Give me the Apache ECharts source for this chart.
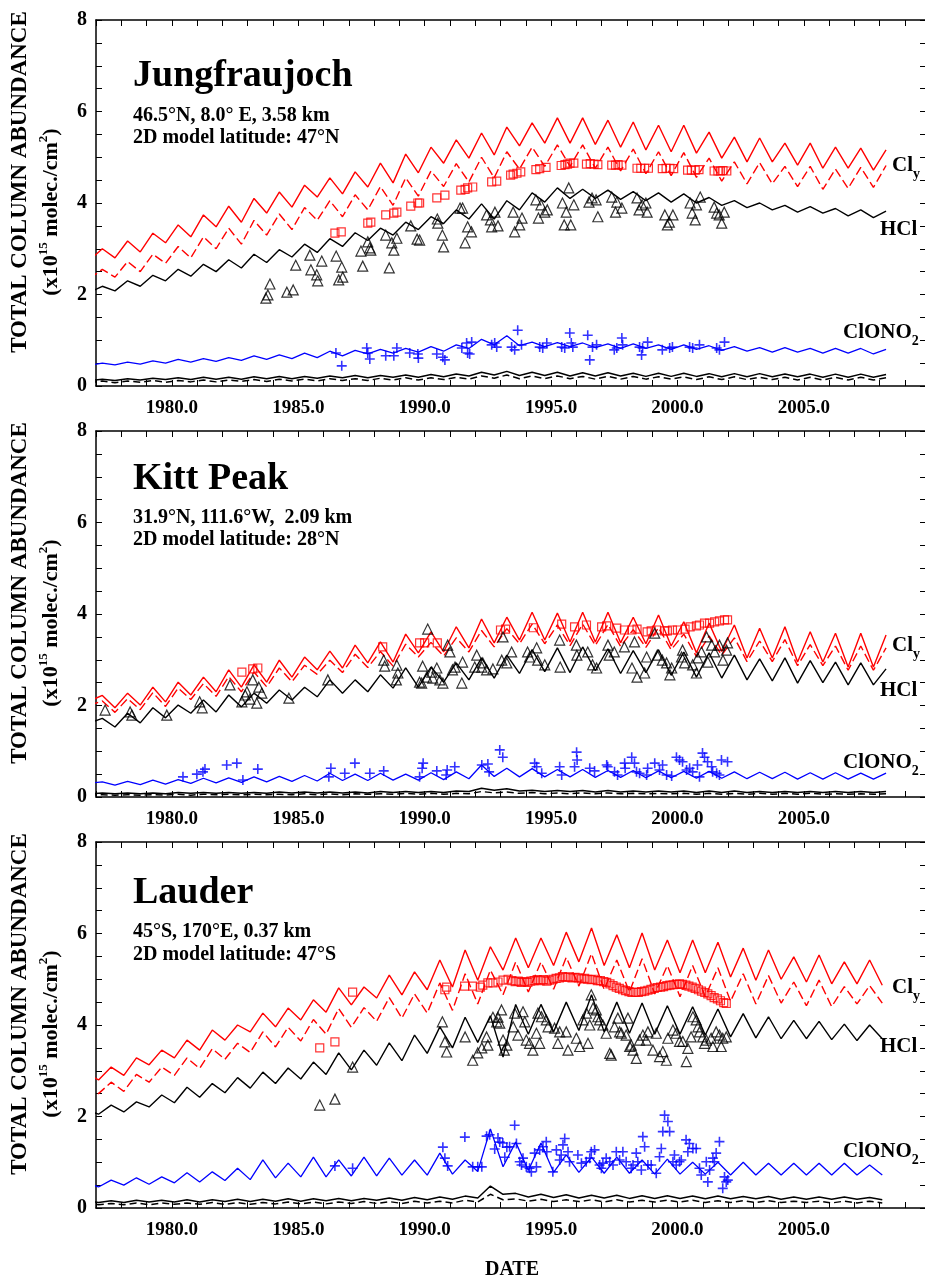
<!DOCTYPE html>
<html>
<head>
<meta charset="utf-8">
<title>Total column abundance</title>
<script src="https://cdn.jsdelivr.net/npm/echarts@6/dist/echarts.min.js"></script>
<style>
  html, body { margin: 0; background: #fff; }
  #chart { width: 925px; height: 1279px; }
</style>
</head>
<body>
<div id="chart"></div>
<script>
// model lines: values every half year starting at T0 (alternating trough / peak)
const STEP = 0.5;
const JF_T0 = 1976.75, KP_T0 = 1976.75, LA_T0 = 1976.6;

// ---- Jungfraujoch ----
const JF_CLY = [
  2.75,3.00, 2.80,3.17, 2.93,3.34, 3.13,3.52, 3.26,3.74, 3.48,3.93, 3.58,4.10, 3.78,4.24,
  3.91,4.39, 4.13,4.55, 4.20,4.68, 4.35,4.87, 4.44,5.07, 4.66,5.22, 4.87,5.38, 4.98,5.53,
  5.05,5.66, 5.25,5.75, 5.31,5.86, 5.31,5.86, 5.28,5.81, 5.22,5.77, 5.16,5.70, 5.12,5.70,
  5.09,5.55, 4.98,5.44, 4.90,5.42, 4.90,5.31, 4.83,5.31, 4.76,5.22, 4.76,5.20, 4.72,5.16
];
const JF_CLY_DASH = [
  2.35,2.55, 2.38,2.72, 2.50,2.88, 2.68,3.05, 2.80,3.26, 3.00,3.45, 3.10,3.62, 3.30,3.76,
  3.42,3.90, 3.62,4.05, 3.70,4.18, 3.85,4.36, 3.95,4.55, 4.15,4.70, 4.36,4.86, 4.46,5.00,
  4.55,5.12, 4.74,5.22, 4.80,5.27, 4.80,5.27, 4.76,5.22, 4.70,5.18, 4.64,5.12, 4.60,5.10,
  4.56,4.98, 4.48,4.90, 4.42,4.88, 4.42,4.80, 4.36,4.80, 4.30,4.74, 4.32,4.78, 4.34,4.82
];
const JF_HCL = [
  2.05,2.18, 2.08,2.30, 2.18,2.42, 2.30,2.55, 2.40,2.66, 2.50,2.76, 2.58,2.88, 2.70,2.98,
  2.82,3.10, 2.92,3.22, 3.05,3.35, 3.18,3.45, 3.30,3.58, 3.42,3.70, 3.55,3.85, 3.65,3.98,
  3.65,4.05, 3.85,4.22, 4.02,4.33, 4.10,4.30, 4.10,4.28, 4.08,4.25, 4.05,4.22, 4.02,4.20,
  4.00,4.12, 3.95,4.05, 3.90,4.00, 3.85,3.95, 3.80,3.92, 3.78,3.88, 3.72,3.85, 3.68,3.82
];
const JF_CLONO2 = [
  0.45,0.50, 0.46,0.52, 0.48,0.55, 0.50,0.58, 0.52,0.60, 0.54,0.62, 0.56,0.66, 0.58,0.68,
  0.60,0.72, 0.62,0.76, 0.66,0.78, 0.70,0.80, 0.72,0.82, 0.74,0.86, 0.76,0.90, 0.82,1.02,
  0.90,1.10, 0.88,0.96, 0.86,0.95, 0.86,0.94, 0.84,0.92, 0.82,0.92, 0.82,0.90, 0.80,0.90,
  0.80,0.88, 0.78,0.86, 0.76,0.84, 0.74,0.84, 0.74,0.82, 0.72,0.82, 0.72,0.82, 0.70,0.80
];
const JF_LOW1 = [
  0.12,0.15, 0.12,0.16, 0.13,0.17, 0.14,0.18, 0.14,0.19, 0.15,0.19, 0.15,0.20, 0.16,0.21,
  0.16,0.21, 0.17,0.22, 0.18,0.23, 0.18,0.23, 0.19,0.24, 0.19,0.25, 0.20,0.26, 0.22,0.30,
  0.24,0.32, 0.23,0.30, 0.23,0.30, 0.22,0.29, 0.22,0.29, 0.22,0.28, 0.21,0.28, 0.21,0.28,
  0.21,0.27, 0.20,0.27, 0.20,0.27, 0.20,0.26, 0.20,0.26, 0.19,0.26, 0.19,0.26, 0.19,0.25
];
const JF_LOW2 = [
  0.07,0.11, 0.07,0.11, 0.08,0.12, 0.08,0.12, 0.09,0.13, 0.09,0.13, 0.10,0.14, 0.10,0.15,
  0.11,0.15, 0.11,0.16, 0.12,0.16, 0.12,0.17, 0.13,0.18, 0.13,0.18, 0.14,0.19, 0.15,0.22,
  0.17,0.24, 0.16,0.22, 0.16,0.22, 0.16,0.21, 0.15,0.21, 0.15,0.21, 0.15,0.20, 0.15,0.20,
  0.14,0.20, 0.14,0.20, 0.14,0.19, 0.14,0.19, 0.13,0.19, 0.13,0.19, 0.13,0.19, 0.13,0.18
];
const JF_CLY_OBS = [
  [1986.45,3.34],[1986.7,3.37],[1987.75,3.56],[1987.87,3.58],[1988.46,3.74],[1988.78,3.78],[1988.9,3.80],
  [1989.45,3.93],[1989.73,4.00],[1989.8,4.00],[1990.48,4.11],[1990.8,4.17],[1991.43,4.28],[1991.6,4.30],
  [1991.7,4.33],[1991.9,4.35],[1992.65,4.46],[1992.85,4.48],[1993.4,4.61],[1993.5,4.63],[1993.65,4.65],
  [1993.8,4.68],[1994.4,4.73],[1994.55,4.75],[1994.8,4.78],[1995.4,4.82],[1995.55,4.84],[1995.65,4.85],
  [1995.75,4.87],[1995.9,4.87],[1996.4,4.85],[1996.55,4.86],[1996.7,4.85],[1996.85,4.84],[1997.4,4.83],
  [1997.55,4.83],[1997.65,4.84],[1997.8,4.83],[1998.4,4.76],[1998.55,4.76],[1998.7,4.76],[1998.85,4.76],
  [1999.4,4.75],[1999.55,4.76],[1999.7,4.76],[1999.85,4.75],[2000.4,4.72],[2000.55,4.72],[2000.7,4.72],
  [2000.85,4.73],[2001.45,4.70],[2001.6,4.70],[2001.7,4.70],[2001.8,4.71],[2001.95,4.70]
];
const JF_HCL_OBS = [
  [1983.72,1.92],[1983.8,1.99],[1983.88,2.23],[1984.55,2.05],[1984.8,2.10],[1984.9,2.64],[1985.46,2.86],
  [1985.5,2.54],[1985.73,2.43],[1985.77,2.30],[1985.93,2.73],[1986.5,2.84],[1986.6,2.32],[1986.72,2.60],
  [1986.76,2.38],[1987.48,2.95],[1987.55,2.62],[1987.75,3.15],[1987.83,3.02],[1987.87,2.97],[1988.46,3.30],
  [1988.6,2.58],[1988.7,3.13],[1988.78,2.97],[1988.9,3.23],[1989.45,3.50],[1989.7,3.21],[1989.8,3.19],
  [1990.5,3.65],[1990.52,3.56],[1990.7,3.30],[1990.75,3.04],[1991.4,3.89],[1991.5,3.89],[1991.6,3.13],
  [1991.7,3.48],[1991.85,3.37],[1992.45,3.74],[1992.6,3.63],[1992.65,3.48],[1992.78,3.80],[1992.9,3.50],
  [1993.5,3.80],[1993.56,3.37],[1993.76,3.52],[1993.85,3.67],[1994.4,4.07],[1994.5,3.67],[1994.6,3.96],
  [1994.75,3.80],[1994.85,3.85],[1995.45,4.00],[1995.52,3.52],[1995.6,3.80],[1995.7,4.33],[1995.78,3.52],
  [1995.9,3.96],[1996.5,4.02],[1996.62,4.11],[1996.78,4.07],[1996.85,3.70],[1997.4,4.13],[1997.55,3.80],
  [1997.6,4.02],[1997.8,3.89],[1998.4,4.11],[1998.48,3.85],[1998.6,3.96],[1998.75,4.00],[1998.8,3.80],
  [1999.5,3.74],[1999.6,3.52],[1999.68,3.58],[1999.82,3.74],[2000.5,4.00],[2000.58,3.78],[2000.7,3.63],
  [2000.75,3.96],[2000.9,4.13],[2001.45,3.91],[2001.55,3.78],[2001.65,3.74],[2001.75,3.56],[2001.85,3.80]
];
const JF_CLONO2_OBS = [
  [1986.49,0.72],[1986.72,0.44],[1987.71,0.83],[1987.75,0.72],[1987.83,0.59],[1988.46,0.66],[1988.78,0.66],
  [1988.9,0.83],[1989.41,0.72],[1989.73,0.70],[1989.75,0.61],[1990.48,0.70],[1990.72,0.63],[1990.8,0.57],
  [1991.47,0.83],[1991.66,0.94],[1991.7,0.72],[1991.78,0.70],[1991.86,0.96],[1992.65,0.90],[1992.77,0.94],
  [1992.85,0.85],[1993.44,0.85],[1993.56,0.79],[1993.68,1.22],[1993.83,0.90],[1994.55,0.85],[1994.67,0.83],
  [1994.83,0.94],[1995.42,0.85],[1995.54,0.83],[1995.74,1.16],[1995.8,0.94],[1995.86,0.85],[1996.45,1.11],
  [1996.53,0.57],[1996.64,0.85],[1996.8,0.90],[1997.5,0.79],[1997.6,0.83],[1997.8,1.05],[1997.83,0.90],
  [1998.5,0.85],[1998.58,0.68],[1998.62,0.83],[1998.82,0.96],[1999.4,0.79],[1999.69,0.83],[1999.8,0.85],
  [2000.48,0.85],[2000.6,0.83],[2000.87,0.90],[2001.55,0.83],[2001.66,0.79],[2001.86,0.96]
];

// ---- Kitt Peak ----
const KP_CLY = [
  2.10,2.22, 1.95,2.27, 2.01,2.40, 2.08,2.51, 2.23,2.62, 2.30,2.78, 2.40,2.89, 2.51,2.99,
  2.62,3.06, 2.78,3.19, 2.82,3.32, 2.93,3.39, 2.95,3.56, 3.15,3.61, 3.17,3.72, 3.26,3.89,
  3.37,3.93, 3.43,4.04, 3.43,4.02, 3.39,4.04, 3.39,4.04, 3.37,3.93, 3.35,3.98, 3.30,3.83,
  3.15,3.80, 3.18,3.76, 3.04,3.69, 3.04,3.72, 2.95,3.61, 2.95,3.58, 2.84,3.58, 2.84,3.54
];
const KP_CLY_DASH = [
  2.00,2.10, 1.85,2.15, 1.91,2.28, 1.98,2.38, 2.13,2.48, 2.20,2.63, 2.30,2.73, 2.41,2.82,
  2.52,2.88, 2.68,2.99, 2.72,3.12, 2.83,3.18, 2.86,3.34, 3.06,3.38, 3.08,3.48, 3.17,3.64,
  3.28,3.68, 3.35,3.78, 3.35,3.76, 3.31,3.78, 3.31,3.77, 3.29,3.66, 3.27,3.70, 3.22,3.56,
  3.07,3.52, 3.10,3.48, 2.96,3.41, 2.96,3.44, 2.87,3.33, 2.87,3.30, 2.77,3.30, 2.77,3.26
];
const KP_HCL = [
  1.62,1.72, 1.53,1.83, 1.62,1.95, 1.73,2.01, 1.83,2.12, 1.86,2.23, 1.97,2.27, 2.05,2.34,
  2.12,2.40, 2.19,2.56, 2.27,2.56, 2.30,2.67, 2.38,2.82, 2.40,2.84, 2.51,2.93, 2.56,3.04,
  2.60,3.10, 2.70,3.22, 2.74,3.26, 2.72,3.28, 2.76,3.24, 2.70,3.20, 2.72,3.22, 2.66,3.17,
  2.62,3.15, 2.60,3.10, 2.56,3.02, 2.54,3.04, 2.49,2.98, 2.50,2.95, 2.45,2.93, 2.45,2.80
];
const KP_CLONO2 = [
  0.30,0.33, 0.26,0.34, 0.27,0.37, 0.28,0.38, 0.30,0.41, 0.31,0.42, 0.32,0.44, 0.33,0.45,
  0.34,0.47, 0.35,0.52, 0.36,0.50, 0.36,0.52, 0.37,0.50, 0.37,0.53, 0.38,0.55, 0.40,0.70,
  0.45,0.63, 0.44,0.62, 0.44,0.60, 0.44,0.60, 0.43,0.58, 0.43,0.58, 0.42,0.57, 0.42,0.56,
  0.41,0.56, 0.41,0.55, 0.40,0.54, 0.40,0.54, 0.39,0.53, 0.39,0.53, 0.39,0.52, 0.39,0.52
];
const KP_LOW1 = [
  0.07,0.09, 0.07,0.09, 0.07,0.09, 0.07,0.10, 0.08,0.10, 0.08,0.10, 0.08,0.10, 0.08,0.11,
  0.09,0.11, 0.09,0.11, 0.09,0.11, 0.09,0.12, 0.10,0.12, 0.10,0.12, 0.10,0.13, 0.12,0.19,
  0.15,0.18, 0.13,0.15, 0.12,0.14, 0.12,0.14, 0.11,0.14, 0.11,0.13, 0.11,0.13, 0.11,0.13,
  0.10,0.13, 0.10,0.13, 0.10,0.12, 0.10,0.12, 0.10,0.12, 0.10,0.12, 0.10,0.12, 0.10,0.12
];
const KP_LOW2 = [
  0.04,0.05, 0.04,0.05, 0.04,0.05, 0.04,0.06, 0.04,0.06, 0.05,0.06, 0.05,0.06, 0.05,0.06,
  0.05,0.07, 0.05,0.07, 0.05,0.07, 0.06,0.07, 0.06,0.08, 0.06,0.08, 0.06,0.08, 0.07,0.12,
  0.09,0.11, 0.08,0.10, 0.07,0.09, 0.07,0.09, 0.07,0.09, 0.07,0.08, 0.07,0.08, 0.07,0.08,
  0.06,0.08, 0.06,0.08, 0.06,0.08, 0.06,0.08, 0.06,0.08, 0.06,0.07, 0.06,0.07, 0.06,0.07
];
const KP_CLY_OBS = [
  [1982.77,2.73],[1983.2,2.80],[1983.4,2.82],[1988.34,3.28],[1989.8,3.37],[1990.0,3.37],[1990.5,3.37],
  [1993.0,3.65],[1993.2,3.67],[1994.3,3.70],[1995.42,3.78],[1995.93,3.72],[1996.4,3.76],[1997.0,3.72],
  [1997.2,3.74],[1997.6,3.69],[1997.9,3.65],[1998.2,3.65],[1998.4,3.67],[1998.8,3.61],[1998.96,3.63],
  [1999.17,3.65],[1999.5,3.63],[1999.6,3.63],[1999.8,3.65],[2000.0,3.65],[2000.3,3.67],[2000.5,3.72],
  [2000.75,3.74],[2000.87,3.76],[2001.07,3.80],[2001.27,3.80],[2001.47,3.83],[2001.66,3.85],
  [2001.86,3.87],[2001.98,3.87]
];
const KP_HCL_OBS = [
  [1977.36,1.90],[1978.35,1.86],[1978.42,1.79],[1979.8,1.79],[1981.1,2.08],[1981.2,1.95],[1982.3,2.45],
  [1982.77,2.08],[1982.9,2.23],[1982.97,2.30],[1983.09,2.14],[1983.2,2.56],[1983.36,2.05],[1983.44,2.40],
  [1983.56,2.27],[1984.63,2.16],[1986.17,2.56],[1988.38,2.99],[1988.42,2.86],[1988.9,2.88],[1988.94,2.71],
  [1988.88,2.56],[1989.8,2.51],[1989.88,2.49],[1989.92,2.86],[1990.08,2.62],[1990.12,3.67],[1990.28,2.73],
  [1990.32,2.60],[1990.48,2.82],[1990.6,2.56],[1990.72,2.49],[1990.91,3.32],[1991.0,3.17],[1991.1,2.78],
  [1991.2,2.84],[1991.47,2.49],[1991.5,2.95],[1991.98,2.84],[1992.06,3.10],[1992.26,2.84],[1992.3,2.93],
  [1992.45,2.78],[1992.7,2.80],[1993.05,2.99],[1993.1,3.50],[1993.25,2.93],[1993.44,3.17],[1994.07,3.17],
  [1994.15,3.06],[1994.43,3.26],[1994.47,2.99],[1994.75,2.89],[1995.34,3.43],[1995.36,2.84],[1996.0,3.32],
  [1996.02,3.10],[1996.45,3.17],[1996.64,2.89],[1996.8,2.82],[1997.25,3.32],[1997.3,3.10],[1997.5,3.17],
  [1997.9,3.28],[1998.2,2.82],[1998.3,3.39],[1998.4,2.62],[1998.7,2.71],[1998.78,3.06],[1999.1,3.58],
  [1999.2,3.10],[1999.4,2.99],[1999.57,2.93],[1999.7,2.67],[1999.77,2.82],[2000.16,3.06],[2000.2,3.21],
  [2000.28,2.93],[2000.6,2.89],[2000.75,2.71],[2000.8,3.04],[2000.95,3.17],[2001.15,3.50],[2001.2,2.95],
  [2001.35,3.32],[2001.47,3.17],[2001.66,3.32],[2001.8,2.99],[2001.94,3.21],[2001.98,3.37]
];
const KP_CLONO2_OBS = [
  [1980.44,0.44],[1980.99,0.50],[1981.23,0.55],[1981.31,0.61],[1982.17,0.70],[1982.57,0.74],[1982.81,0.37],
  [1983.4,0.61],[1986.29,0.63],[1986.21,0.44],[1986.84,0.52],[1987.24,0.74],[1987.83,0.52],[1988.38,0.57],
  [1989.8,0.44],[1989.9,0.63],[1989.94,0.74],[1990.48,0.57],[1990.85,0.48],[1990.89,0.59],[1991.19,0.66],
  [1992.26,0.70],[1992.5,0.72],[1992.55,0.55],[1992.97,1.03],[1993.09,0.87],[1994.35,0.74],[1994.43,0.66],
  [1994.63,0.52],[1995.34,0.66],[1995.42,0.48],[1996.01,0.98],[1996.03,0.81],[1995.93,0.66],[1996.53,0.63],
  [1996.72,0.57],[1997.2,0.70],[1997.24,0.66],[1997.51,0.55],[1997.63,0.48],[1997.91,0.74],[1997.93,0.63],
  [1998.19,0.87],[1998.3,0.74],[1998.38,0.55],[1998.5,0.52],[1998.78,0.48],[1998.82,0.63],[1999.1,0.74],
  [1999.29,0.59],[1999.41,0.70],[1999.57,0.48],[1999.77,0.46],[1999.96,0.87],[2000.08,0.81],[2000.2,0.77],
  [2000.36,0.59],[2000.48,0.63],[2000.6,0.55],[2000.79,0.70],[2000.87,0.44],[2000.99,0.96],[2001.07,0.87],
  [2001.19,0.77],[2001.35,0.66],[2001.39,0.55],[2001.55,0.52],[2001.66,0.48],[2001.74,0.81],[2001.98,0.77]
];

// ---- Lauder (values start with a peak) ----
const LA_CLY = [
  2.95,2.80, 3.08,2.90, 3.28,3.13, 3.45,3.28, 3.67,3.45, 3.89,3.67, 4.00,3.85, 4.26,3.96,
  4.37,4.11, 4.55,4.28, 4.81,4.44, 4.83,4.59, 5.09,4.66, 5.16,4.77, 5.42,4.83, 5.64,4.98,
  5.71,5.20, 5.90,5.25, 5.90,5.30, 6.03,5.38, 6.12,5.30, 5.97,5.25, 6.01,5.20, 5.86,5.14,
  5.86,5.14, 5.81,5.05, 5.68,4.98, 5.64,5.00, 5.49,4.94, 5.53,4.90, 5.38,4.90, 5.42,4.87
];
const LA_CLY_DASH = [
  2.62,2.50, 2.75,2.55, 2.92,2.75, 3.08,2.90, 3.28,3.05, 3.48,3.25, 3.60,3.40, 3.85,3.52,
  3.95,3.65, 4.12,3.80, 4.36,3.95, 4.38,4.08, 4.60,4.15, 4.68,4.26, 4.92,4.32, 5.12,4.46,
  5.20,4.66, 5.38,4.72, 5.38,4.78, 5.48,4.85, 5.56,4.78, 5.42,4.72, 5.45,4.68, 5.30,4.62,
  5.30,4.62, 5.25,4.52, 5.12,4.46, 5.08,4.48, 4.94,4.42, 4.98,4.40, 4.84,4.46, 4.86,4.48
];
const LA_HCL = [
  2.15,2.05, 2.25,2.10, 2.32,2.21, 2.47,2.30, 2.64,2.42, 2.72,2.52, 2.85,2.62, 2.97,2.72,
  3.06,2.82, 3.19,2.92, 3.39,3.02, 3.45,3.12, 3.61,3.22, 3.78,3.38, 3.96,3.50, 4.17,3.62,
  4.20,3.30, 4.45,3.80, 4.45,3.85, 4.50,3.88, 4.66,3.85, 4.50,3.82, 4.48,3.80, 4.42,3.80,
  4.40,3.78, 4.35,3.74, 4.25,3.72, 4.18,3.70, 4.10,3.70, 4.08,3.68, 4.02,3.66, 4.00,3.70
];
const LA_CLONO2 = [
  0.55,0.46, 0.61,0.50, 0.66,0.52, 0.68,0.55, 0.77,0.57, 0.79,0.60, 0.87,0.62, 1.05,0.66,
  0.98,0.68, 1.11,0.68, 1.05,0.70, 1.11,0.70, 1.09,0.72, 1.05,0.72, 1.20,0.74, 1.05,0.80,
  1.73,0.90, 1.44,0.82, 1.42,0.78, 1.16,0.78, 1.11,0.76, 1.11,0.76, 1.05,0.74, 1.07,0.74,
  1.00,0.74, 1.00,0.72, 1.00,0.72, 0.98,0.72, 0.98,0.72, 0.98,0.72, 0.98,0.72, 0.94,0.72
];
const LA_LOW1 = [
  0.16,0.12, 0.16,0.12, 0.17,0.13, 0.17,0.13, 0.18,0.13, 0.18,0.14, 0.19,0.14, 0.19,0.15,
  0.20,0.15, 0.20,0.16, 0.21,0.16, 0.21,0.17, 0.22,0.17, 0.23,0.18, 0.24,0.19, 0.26,0.22,
  0.48,0.30, 0.32,0.24, 0.30,0.23, 0.29,0.22, 0.28,0.22, 0.28,0.21, 0.27,0.21, 0.27,0.21,
  0.26,0.20, 0.26,0.20, 0.25,0.20, 0.25,0.19, 0.24,0.19, 0.24,0.19, 0.24,0.19, 0.23,0.18
];
const LA_LOW2 = [
  0.10,0.07, 0.10,0.07, 0.11,0.07, 0.11,0.08, 0.11,0.08, 0.12,0.08, 0.12,0.08, 0.12,0.09,
  0.13,0.09, 0.13,0.09, 0.13,0.10, 0.14,0.10, 0.14,0.10, 0.15,0.11, 0.15,0.11, 0.17,0.13,
  0.30,0.18, 0.20,0.15, 0.19,0.14, 0.18,0.14, 0.18,0.13, 0.18,0.13, 0.17,0.13, 0.17,0.13,
  0.17,0.12, 0.16,0.12, 0.16,0.12, 0.16,0.12, 0.15,0.12, 0.15,0.11, 0.15,0.11, 0.15,0.11
];
const LA_CLY_OBS = [
  [1985.85,3.50],[1986.45,3.63],[1987.15,4.72],[1990.8,4.77],[1990.87,4.83],[1991.58,4.85],[1991.9,4.85],
  [1992.2,4.83],[1992.3,4.87],[1992.5,4.92],[1992.7,4.92],[1992.9,4.94],[1993.1,4.98],[1993.3,5.00],
  [1993.45,4.97],[1993.58,4.95],[1993.7,4.96],[1993.82,4.93],[1993.95,4.95],[1994.08,4.93],[1994.2,4.96],
  [1994.33,4.97],[1994.45,4.99],[1994.58,4.97],[1994.7,4.99],[1994.83,4.96],[1994.95,4.98],[1995.08,5.00],
  [1995.2,5.02],[1995.33,5.03],[1995.45,5.06],[1995.58,5.04],[1995.7,5.05],[1995.83,5.03],[1995.95,5.04],
  [1996.08,5.03],[1996.2,5.01],[1996.33,5.02],[1996.45,5.00],[1996.58,4.99],[1996.7,5.00],[1996.83,4.97],
  [1996.95,4.97],[1997.08,4.95],[1997.2,4.93],[1997.33,4.90],[1997.45,4.86],[1997.58,4.83],[1997.7,4.80],
  [1997.83,4.77],[1997.95,4.75],[1998.08,4.73],[1998.2,4.71],[1998.33,4.72],[1998.45,4.71],[1998.58,4.73],
  [1998.7,4.74],[1998.83,4.76],[1998.95,4.78],[1999.08,4.80],[1999.2,4.82],[1999.33,4.83],[1999.45,4.84],
  [1999.58,4.86],[1999.7,4.87],[1999.83,4.88],[1999.95,4.89],[2000.08,4.90],[2000.2,4.89],[2000.33,4.87],
  [2000.45,4.85],[2000.58,4.83],[2000.7,4.80],[2000.83,4.77],[2000.95,4.74],[2001.08,4.71],[2001.2,4.68],
  [2001.33,4.64],[2001.45,4.60],[2001.58,4.57],[2001.7,4.53],[2001.83,4.49],[2001.93,4.47]
];
const LA_HCL_OBS = [
  [1985.85,2.25],[1986.45,2.38],[1987.15,3.08],[1990.7,4.07],[1990.8,3.63],[1990.87,3.41],[1991.6,3.74],
  [1991.9,3.23],[1992.1,3.39],[1992.26,3.50],[1992.45,3.74],[1992.5,3.56],[1992.7,4.17],[1992.85,4.07],
  [1992.9,4.17],[1992.97,4.04],[1993.1,3.67],[1993.15,3.45],[1993.25,3.56],[1993.04,4.33],[1993.5,3.96],
  [1993.56,4.26],[1993.69,3.78],[1993.89,4.29],[1993.96,4.07],[1994.02,3.67],[1994.15,3.60],[1994.28,3.45],
  [1994.42,3.82],[1994.48,4.26],[1994.55,3.60],[1994.62,4.18],[1994.81,4.11],[1994.88,3.96],[1995.14,3.93],
  [1995.27,3.60],[1995.34,3.85],[1995.6,3.85],[1995.67,3.45],[1996.0,3.71],[1996.13,3.53],[1996.26,4.11],
  [1996.4,4.26],[1996.46,3.60],[1996.53,4.00],[1996.59,4.66],[1996.66,4.37],[1996.79,4.33],[1996.85,4.18],
  [1996.92,4.11],[1997.05,4.00],[1997.18,3.82],[1997.32,3.38],[1997.38,3.34],[1997.51,3.96],[1997.64,4.15],
  [1997.71,3.85],[1997.78,3.82],[1997.97,3.78],[1998.04,4.15],[1998.11,3.53],[1998.17,3.56],[1998.24,3.45],
  [1998.37,3.27],[1998.5,3.67],[1998.63,3.78],[1998.77,3.67],[1998.83,3.85],[1999.03,3.45],[1999.16,3.82],
  [1999.29,3.31],[1999.42,3.42],[1999.56,3.23],[1999.62,3.71],[1999.82,3.89],[1999.95,3.82],[2000.08,3.64],
  [2000.21,3.64],[2000.35,3.20],[2000.41,3.49],[2000.54,3.74],[2000.61,4.18],[2000.74,4.11],[2000.81,3.96],
  [2000.87,3.85],[2001.0,3.74],[2001.07,3.60],[2001.14,3.67],[2001.33,3.71],[2001.4,3.53],[2001.53,3.85],
  [2001.66,3.78],[2001.73,3.53],[2001.79,3.71],[2001.93,3.74]
];
const LA_CLONO2_OBS = [
  [1986.45,0.92],[1987.15,0.87],[1990.72,1.33],[1990.8,1.09],[1990.91,0.92],[1991.59,1.55],[1991.9,0.90],
  [1992.1,0.90],[1992.26,0.90],[1992.45,1.57],[1992.57,1.60],[1992.77,1.29],[1992.9,1.53],[1992.97,1.44],
  [1993.09,1.42],[1993.17,1.11],[1993.25,1.33],[1993.36,1.34],[1993.56,1.81],[1993.63,1.41],[1993.76,1.01],
  [1993.83,0.94],[1993.89,1.09],[1994.02,0.90],[1994.15,0.87],[1994.22,0.79],[1994.35,1.20],[1994.42,0.90],
  [1994.55,1.27],[1994.68,1.34],[1994.81,1.45],[1994.83,1.23],[1995.07,0.79],[1995.21,1.27],[1995.34,1.05],
  [1995.4,1.16],[1995.47,1.38],[1995.54,1.52],[1995.67,1.23],[1995.73,1.01],[1996.06,1.16],[1996.2,0.98],
  [1996.39,1.01],[1996.53,1.09],[1996.59,1.23],[1996.72,1.27],[1996.92,0.94],[1996.99,0.87],[1997.05,0.98],
  [1997.18,1.09],[1997.32,1.01],[1997.45,0.94],[1997.58,1.23],[1997.71,1.05],[1997.84,1.23],[1997.97,1.01],
  [1998.17,0.87],[1998.24,0.94],[1998.37,1.20],[1998.43,1.01],[1998.57,0.83],[1998.63,1.56],[1998.7,1.34],
  [1998.83,0.94],[1998.96,0.94],[1999.16,0.76],[1999.29,1.12],[1999.36,1.30],[1999.42,1.67],[1999.49,2.03],
  [1999.62,1.89],[1999.69,1.67],[1999.82,1.01],[1999.88,1.16],[1999.95,0.94],[2000.08,1.01],[2000.15,1.05],
  [2000.34,1.49],[2000.41,1.23],[2000.47,1.41],[2000.61,1.30],[2000.74,1.30],[2000.87,0.87],[2000.94,0.72],
  [2001.14,1.01],[2001.2,0.57],[2001.27,0.83],[2001.4,1.09],[2001.46,1.01],[2001.53,1.20],[2001.66,1.45],
  [2001.79,0.43],[2001.86,0.68],[2001.93,0.57],[2001.99,0.61]
];

const PANELS = [
  { name: 'Jungfraujoch', info: ['46.5°N, 8.0° E, 3.58 km', '2D model latitude: 47°N'], t0: JF_T0,
    cly: JF_CLY, clyDash: JF_CLY_DASH, hcl: JF_HCL, clono2: JF_CLONO2, low1: JF_LOW1, low2: JF_LOW2,
    clyObs: JF_CLY_OBS, hclObs: JF_HCL_OBS, clono2Obs: JF_CLONO2_OBS },
  { name: 'Kitt Peak', info: ['31.9°N, 111.6°W,  2.09 km', '2D model latitude: 28°N'], t0: KP_T0,
    cly: KP_CLY, clyDash: KP_CLY_DASH, hcl: KP_HCL, clono2: KP_CLONO2, low1: KP_LOW1, low2: KP_LOW2,
    clyObs: KP_CLY_OBS, hclObs: KP_HCL_OBS, clono2Obs: KP_CLONO2_OBS },
  { name: 'Lauder', info: ['45°S, 170°E, 0.37 km', '2D model latitude: 47°S'], t0: LA_T0,
    cly: LA_CLY, clyDash: LA_CLY_DASH, hcl: LA_HCL, clono2: LA_CLONO2, low1: LA_LOW1, low2: LA_LOW2,
    clyObs: LA_CLY_OBS, hclObs: LA_HCL_OBS, clono2Obs: LA_CLONO2_OBS }
];

// layout (the right frame sits just outside the picture, as in the original)
const FONT = '"Liberation Serif", "Times New Roman", serif';
const GRID_TOP = [20, 431, 842];
const GRID_LEFT = 96, GRID_W = 830, GRID_H = 366;
const X_MIN = 1977, X_MAX = 2009.83;
const NAME_Y = [76, 479, 893];
const INFO_Y = [[116, 138], [518, 540], [932, 955]];
const LABEL_Y = [[166, 230, 333], [646, 691, 763], [988, 1047, 1152]];

let $echarts = echarts;
let myChart = $echarts.init(document.getElementById('chart'));

function timed(t0, vals) {
  return vals.map((v, i) => [t0 + i * STEP, v]);
}

function lineSeries(idx, data, color, width, dash) {
  return {
    type: 'line', xAxisIndex: 2 * idx, yAxisIndex: 2 * idx, data: data,
    showSymbol: false, symbol: 'none', silent: true, z: 2,
    lineStyle: { color: color, width: width, type: dash || 'solid' }
  };
}

function scatterSeries(idx, data, symbol, size, color, bw) {
  return {
    type: 'scatter', xAxisIndex: 2 * idx, yAxisIndex: 2 * idx, data: data,
    symbol: symbol, symbolSize: size, silent: true, z: 3,
    itemStyle: { color: 'rgba(0,0,0,0)', borderColor: color, borderWidth: bw }
  };
}

const frameLine = { show: true, onZero: false, lineStyle: { color: '#000', width: 1.5 } };
const tick = { show: true, inside: true, length: 6, lineStyle: { color: '#000', width: 1 } };

let grids = [], xAxes = [], yAxes = [], series = [], graphics = [];

PANELS.forEach((p, i) => {
  grids.push({ left: GRID_LEFT, top: GRID_TOP[i], width: GRID_W, height: GRID_H,
    containLabel: false, outerBoundsMode: 'none' });

  ['bottom', 'top'].forEach((pos) => {
    xAxes.push({
      gridIndex: i, type: 'value', position: pos, min: X_MIN, max: X_MAX, interval: 1,
      axisLine: frameLine, axisTick: tick, splitLine: { show: false },
      axisLabel: {
        show: pos === 'bottom', interval: 0, margin: 13, color: '#000',
        fontFamily: FONT, fontWeight: 'bold', fontSize: 19,
        formatter: (v) => (v % 5 === 0 ? v.toFixed(1) : '')
      }
    });
  });
  ['left', 'right'].forEach((pos) => {
    yAxes.push({
      gridIndex: i, type: 'value', position: pos, min: 0, max: 8, interval: 0.5,
      axisLine: frameLine, axisTick: tick, splitLine: { show: false },
      axisLabel: {
        show: pos === 'left', interval: 0, margin: 9, color: '#000',
        fontFamily: FONT, fontWeight: 'bold', fontSize: 20,
        formatter: (v) => (v % 2 === 0 ? String(v) : '')
      }
    });
  });

  series.push(
    lineSeries(i, timed(p.t0, p.low2), '#000', 1.5, [7, 4]),
    lineSeries(i, timed(p.t0, p.low1), '#000', 1.5),
    lineSeries(i, timed(p.t0, p.clono2), '#0000ff', 1.3),
    lineSeries(i, timed(p.t0, p.hcl), '#000', 1.4),
    lineSeries(i, timed(p.t0, p.clyDash), '#ff0000', 1.4, [9, 4]),
    lineSeries(i, timed(p.t0, p.cly), '#ff0000', 1.4),
    scatterSeries(i, p.clyObs, 'rect', 8, '#ff0000', 1.2),
    scatterSeries(i, p.hclObs, 'triangle', 10, '#000', 1.2),
    scatterSeries(i, p.clono2Obs, 'path://M4,0L4,8M0,4L8,4', 10, '#0000ff', 1.6)
  );

  // station name and info
  graphics.push(
    { type: 'text', x: 133, y: NAME_Y[i], silent: true,
      style: { text: p.name, font: 'bold 38px ' + FONT, fill: '#000', align: 'left', verticalAlign: 'middle' } },
    { type: 'text', x: 133, y: INFO_Y[i][0], silent: true,
      style: { text: p.info[0], font: 'bold 20px ' + FONT, fill: '#000', align: 'left', verticalAlign: 'middle' } },
    { type: 'text', x: 133, y: INFO_Y[i][1], silent: true,
      style: { text: p.info[1], font: 'bold 20px ' + FONT, fill: '#000', align: 'left', verticalAlign: 'middle' } }
  );

  // species labels at the right
  const sub = {
    n: { fontFamily: FONT, fontWeight: 'bold', fontSize: 21, lineHeight: 30, fill: '#000' },
    s: { fontFamily: FONT, fontWeight: 'bold', fontSize: 14, lineHeight: 14, verticalAlign: 'bottom', fill: '#000' }
  };
  graphics.push(
    { type: 'text', x: 892, y: LABEL_Y[i][0], silent: true,
      style: { text: '{n|Cl}{s|y}', rich: sub, align: 'left', verticalAlign: 'middle' } },
    { type: 'text', x: 880, y: LABEL_Y[i][1], silent: true,
      style: { text: 'HCl', font: 'bold 21px ' + FONT, fill: '#000', align: 'left', verticalAlign: 'middle' } },
    { type: 'text', x: 843, y: LABEL_Y[i][2], silent: true,
      style: { text: '{n|ClONO}{s|2}', rich: sub, align: 'left', verticalAlign: 'middle' } }
  );

  // y axis title
  graphics.push(
    { type: 'text', x: 20, y: GRID_TOP[i] + 162, rotation: Math.PI / 2, silent: true,
      style: { text: 'TOTAL COLUMN ABUNDANCE', font: 'bold 23px ' + FONT, fill: '#000',
        align: 'center', verticalAlign: 'middle' } },
    { type: 'text', x: 51, y: GRID_TOP[i] + 192, rotation: Math.PI / 2, silent: true,
      style: {
        text: '{n|(x10}{s|15}{n| molec./cm}{s|2}{n|)}', align: 'center', verticalAlign: 'middle',
        rich: {
          n: { fontFamily: FONT, fontWeight: 'bold', fontSize: 22, lineHeight: 28, fill: '#000' },
          s: { fontFamily: FONT, fontWeight: 'bold', fontSize: 13, lineHeight: 13, verticalAlign: 'top', fill: '#000' }
        }
      } }
  );
});

graphics.push({ type: 'text', x: 512, y: 1270, silent: true,
  style: { text: 'DATE', font: 'bold 20px ' + FONT, fill: '#000', align: 'center', verticalAlign: 'middle' } });

myChart.setOption({
  animation: false,
  backgroundColor: '#fff',
  grid: grids,
  xAxis: xAxes,
  yAxis: yAxes,
  series: series,
  graphic: graphics
});
</script>
</body>
</html>
